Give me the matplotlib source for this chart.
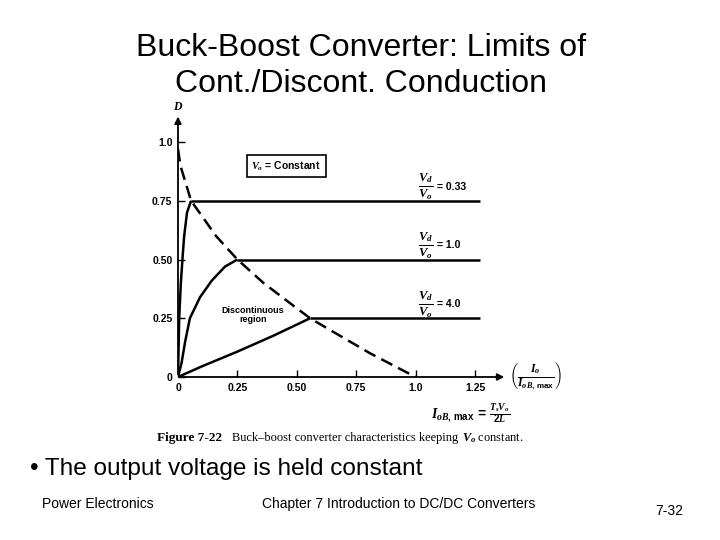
import matplotlib.pyplot as plt

# boundary between continuous / discontinuous conduction (dashed)
bound_x = [0.0, 0.01, 0.04, 0.055, 0.09, 0.16, 0.25, 0.36, 0.49, 0.556, 0.64, 0.81, 1.0]
bound_d = [0.97, 0.9, 0.8, 0.75, 0.7, 0.6, 0.5, 0.4, 0.3, 0.25, 0.2, 0.1, 0.0]

# Vd/Vo ratios and their constant-D levels in continuous conduction
ratio_labels = ['0.33', '1.0', '4.0']
d_levels = [0.75, 0.50, 0.25]
line_end = 1.27

# discontinuous curves
dcm_x = [
    [0.0, 0.005, 0.012, 0.02, 0.026, 0.038, 0.055],
    [0.0, 0.015, 0.03, 0.05, 0.093, 0.142, 0.198, 0.25],
    [0.0, 0.1, 0.25, 0.4, 0.556],
]
dcm_d = [
    [0.0, 0.25, 0.4, 0.52, 0.6, 0.7, 0.75],
    [0.0, 0.06, 0.15, 0.25, 0.34, 0.41, 0.47, 0.5],
    [0.0, 0.045, 0.108, 0.175, 0.25],
]

x_ticks = [0, 0.25, 0.50, 0.75, 1.0, 1.25]
x_ticklabels = ['0', '0.25', '0.50', '0.75', '1.0', '1.25']
y_ticks = [0, 0.25, 0.50, 0.75, 1.0]
y_ticklabels = ['0', '0.25', '0.50', '0.75', '1.0']

plt.rcParams['font.family'] = ['Liberation Sans', 'DejaVu Sans']
plt.rcParams['mathtext.fontset'] = 'custom'
plt.rcParams['mathtext.it'] = 'Liberation Serif:bold:italic'
plt.rcParams['mathtext.rm'] = 'Liberation Sans:bold'
plt.rcParams['mathtext.bf'] = 'Liberation Serif:bold'

W, H = 720, 540
fig = plt.figure(figsize=(7.2, 5.4), dpi=100)

# axes placed in pixels: x=0 at px 178, 237.6 px per unit; D=0 at px 377, 235 px per unit
x0, xs = 178, 237.6
y0, ys = 377, 235
xmax, ymax = 1.45, 1.13
ax = fig.add_axes([x0 / W, (H - y0) / H, xmax * xs / W, ymax * ys / H])
ax.set_xlim(0, xmax)
ax.set_ylim(0, ymax)
for s in ['top', 'right', 'left', 'bottom']:
    ax.spines[s].set_visible(False)

# axes with arrows
ax.annotate('', xy=(1.385, 0), xytext=(0, 0),
            arrowprops=dict(arrowstyle='-|>', color='black', lw=1.3, mutation_scale=10),
            annotation_clip=False)
ax.annotate('', xy=(0, 1.12), xytext=(0, 0),
            arrowprops=dict(arrowstyle='-|>', color='black', lw=1.3, mutation_scale=10),
            annotation_clip=False)

ax.set_xticks(x_ticks)
ax.set_xticklabels(x_ticklabels)
ax.set_yticks(y_ticks)
ax.set_yticklabels(y_ticklabels)
ax.tick_params(direction='in', length=5, width=1, labelsize=7.5, pad=4)
for lbl in ax.get_xticklabels() + ax.get_yticklabels():
    lbl.set_fontweight('bold')

# boundary curve
ax.plot(bound_x, bound_d, color='black', lw=1.8, linestyle=(0, (5, 2.6)))

# constant-D lines and DCM curves
for xs_, ds_, d, lab in zip(dcm_x, dcm_d, d_levels, ratio_labels):
    ax.plot(xs_, ds_, color='black', lw=1.8, solid_capstyle='butt')
    ax.plot([xs_[-1], line_end], [d, d], color='black', lw=1.8, solid_capstyle='butt')
    ax.text(1.04, d + 0.06, r'$\frac{V_d}{V_o}$', fontsize=13, ha='center', va='center')
    ax.text(1.09, d + 0.06, '= ' + lab, fontsize=7.5, fontweight='bold', ha='left', va='center')

ax.text(0.0, 1.125, r'$D$', fontsize=8.5, ha='center', va='bottom', clip_on=False)

ax.text(0.455, 0.898, r'$V_o$ = Constant', fontsize=7.5, fontweight='bold',
        ha='center', va='center',
        bbox=dict(boxstyle='square,pad=0.45', facecolor='white', edgecolor='black', lw=1.2))

ax.text(0.315, 0.265, 'Discontinuous\nregion', fontsize=6.5, fontweight='bold',
        ha='center', va='center', linespacing=1.0)

ax.text(1.395, 0.0, r'$\left(\frac{I_o}{I_{oB,\,\mathrm{max}}}\right)$', fontsize=12,
        ha='left', va='center', clip_on=False)

ax.text(1.23, -0.155, r'$I_{oB,\,\mathrm{max}}\,=\,\frac{T_s V_o}{2L}$', fontsize=10,
        ha='center', va='center')

# slide text
fig.text(361 / W, 1 - 48 / H, 'Buck-Boost Converter: Limits of', fontsize=23,
         ha='center', va='center')
fig.text(361 / W, 1 - 84 / H, 'Cont./Discont. Conduction', fontsize=23,
         ha='center', va='center')

fig.text(157 / W, 1 - 438 / H, 'Figure 7-22', fontsize=9.5, family='Liberation Serif',
         fontweight='bold', ha='left', va='center')
fig.text(232 / W, 1 - 438 / H, 'Buck\u2013boost converter characteristics keeping',
         fontsize=8.9, family='Liberation Serif', ha='left', va='center')
fig.text(462 / W, 1 - 438 / H, r'$V_o$ constant.',
         fontsize=8.9, family='Liberation Serif', ha='left', va='center')

fig.text(30 / W, 1 - 469 / H, '\u2022 The output voltage is held constant', fontsize=17.6,
         ha='left', va='center')

fig.text(42 / W, 1 - 504 / H, 'Power Electronics', fontsize=10, ha='left', va='center')
fig.text(262 / W, 1 - 504 / H, 'Chapter 7 Introduction to DC/DC Converters', fontsize=10,
         ha='left', va='center')
fig.text(655 / W, 1 - 511 / H, '7-32', fontsize=10, ha='left', va='center')

fig.savefig('out.png', dpi=100, facecolor='white')
